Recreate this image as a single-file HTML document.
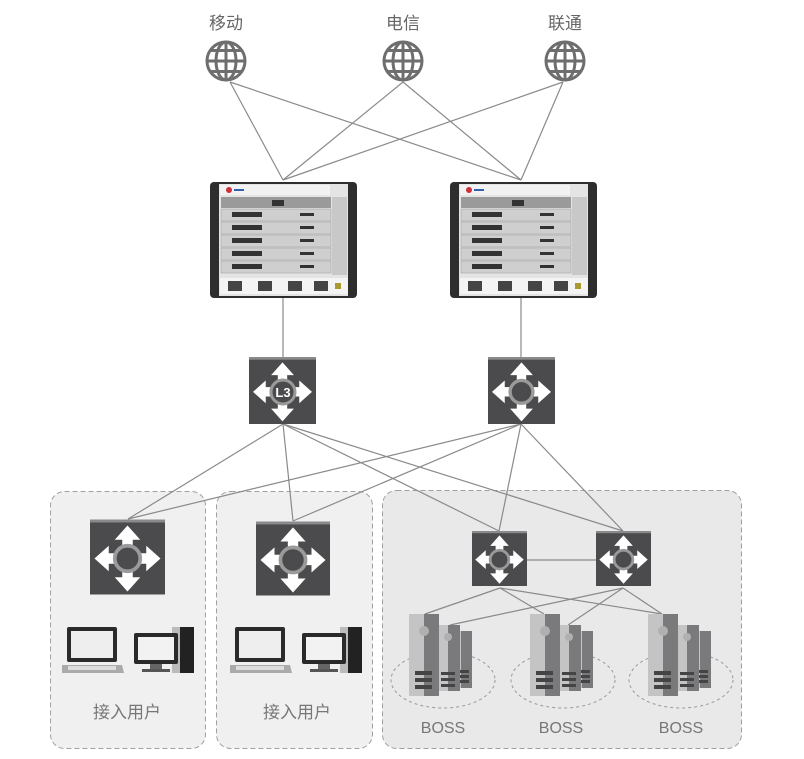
<!DOCTYPE html>
<html><head><meta charset="utf-8"><style>
body{margin:0;background:#fff;}
svg{display:block;font-family:"Liberation Sans","Noto Sans CJK SC",sans-serif;}
</style></head><body>
<svg width="804" height="759" viewBox="0 0 804 759" xmlns="http://www.w3.org/2000/svg">
<defs>
<symbol id="sw" viewBox="0 0 100 100">
<rect x="0" y="0" width="100" height="100" fill="#4b4b4d"/>
<rect x="0" y="0" width="100" height="4" fill="#8a8a8c"/>
<g fill="#fff">
<polygon points="50,8 67,27 57,27 57,38 43,38 43,27 33,27"/>
<polygon points="50,96 67,77 57,77 57,66 43,66 43,77 33,77"/>
<polygon points="6,52 25,35 25,45 36,45 36,59 25,59 25,69"/>
<polygon points="94,52 75,35 75,45 64,45 64,59 75,59 75,69"/>
</g>
<circle cx="50" cy="52" r="17" fill="#4b4b4d" stroke="#9a9a9a" stroke-width="5"/>
</symbol>
<symbol id="ch" viewBox="0 0 147 116">
<rect x="0" y="0" width="147" height="116" rx="4" fill="#2e2e2e"/>
<rect x="9" y="2" width="129" height="112" fill="#e4e4e4"/>
<rect x="10" y="3" width="110" height="10" fill="#f2f2f2"/>
<circle cx="19" cy="8" r="3" fill="#d0303a"/>
<rect x="24" y="7" width="10" height="2" fill="#3060b0"/>
<rect x="11" y="15" width="110" height="11" fill="#9a9a9a"/>
<g fill="#cfcfcf" stroke="#999" stroke-width="0.5">
<rect x="11" y="27" width="110" height="12"/><rect x="11" y="40" width="110" height="12"/>
<rect x="11" y="53" width="110" height="12"/><rect x="11" y="66" width="110" height="12"/>
<rect x="11" y="79" width="110" height="12"/>
</g>
<g fill="#333">
<rect x="22" y="30" width="30" height="5"/><rect x="22" y="43" width="30" height="5"/>
<rect x="22" y="56" width="30" height="5"/><rect x="22" y="69" width="30" height="5"/>
<rect x="22" y="82" width="30" height="5"/>
<rect x="90" y="31" width="14" height="3"/><rect x="90" y="44" width="14" height="3"/>
<rect x="90" y="57" width="14" height="3"/><rect x="90" y="70" width="14" height="3"/>
<rect x="90" y="83" width="14" height="3"/>
<rect x="62" y="18" width="12" height="6"/>
</g>
<rect x="122" y="15" width="15" height="78" fill="#c8c8c8"/>
<rect x="10" y="96" width="128" height="16" fill="#f4f4f4"/>
<g fill="#444"><rect x="18" y="99" width="14" height="10"/><rect x="48" y="99" width="14" height="10"/><rect x="78" y="99" width="14" height="10"/><rect x="104" y="99" width="14" height="10"/><rect x="125" y="101" width="6" height="6" fill="#a89a30"/></g>
</symbol>
<symbol id="globe" viewBox="0 0 44 44">
<g fill="none" stroke="#6e6e6e" stroke-width="3">
<circle cx="22" cy="22" r="19"/>
<ellipse cx="22" cy="22" rx="10" ry="19"/>
<line x1="22" y1="3" x2="22" y2="41"/>
<line x1="3" y1="22" x2="41" y2="22"/>
<path d="M6 11.5 H38 M6 32.5 H38"/>
</g>
</symbol>
<symbol id="srv" viewBox="0 0 64 84">
<rect x="51" y="17" width="12" height="57" fill="#7a7a7c"/>
<rect x="48" y="17" width="4" height="57" fill="#c4c4c4"/>
<rect x="30" y="11" width="21" height="66" fill="#7a7a7c"/>
<rect x="30" y="11" width="9" height="66" fill="#c4c4c4"/>
<rect x="0" y="0" width="30" height="82" fill="#7a7a7c"/>
<rect x="0" y="0" width="15" height="82" fill="#c4c4c4"/>
<circle cx="15" cy="17" r="5" fill="#b0b0b0"/>
<circle cx="39" cy="23" r="4" fill="#b0b0b0"/>
<g fill="#444">
<rect x="6" y="57" width="17" height="4"/><rect x="6" y="64" width="17" height="4"/><rect x="6" y="71" width="17" height="4"/>
<rect x="32" y="58" width="14" height="3"/><rect x="32" y="64" width="14" height="3"/><rect x="32" y="70" width="14" height="3"/>
<rect x="51" y="56" width="9" height="3"/><rect x="51" y="61" width="9" height="3"/><rect x="51" y="66" width="9" height="3"/>
</g>
</symbol>
<symbol id="pc" viewBox="0 0 134 48">
<rect x="5" y="0" width="50" height="35" rx="2" fill="#2a2a2a"/>
<rect x="9" y="4" width="42" height="27" fill="#eee"/>
<polygon points="0,38 60,38 62,46 -2,46" fill="#aaa"/>
<rect x="6" y="39" width="48" height="4" fill="#ddd"/>
<rect x="110" y="0" width="22" height="46" fill="#222"/>
<rect x="110" y="0" width="8" height="46" fill="#bbb"/>
<rect x="72" y="6" width="44" height="31" rx="2" fill="#2a2a2a"/>
<rect x="76" y="10" width="36" height="23" fill="#f2f2f2"/>
<rect x="88" y="37" width="12" height="5" fill="#666"/>
<rect x="80" y="42" width="28" height="3" fill="#555"/>
</symbol>
</defs>

<rect x="50.5" y="491.5" width="155" height="257" rx="14" fill="#f0f0f0" stroke="#a0a0a0" stroke-dasharray="5,3"/>
<rect x="216.5" y="491.5" width="156" height="257" rx="14" fill="#f0f0f0" stroke="#a0a0a0" stroke-dasharray="5,3"/>
<rect x="382.5" y="490.5" width="359" height="258" rx="14" fill="#e9e9ea" stroke="#a0a0a0" stroke-dasharray="5,3"/>

<g stroke="#8a8a8a" stroke-width="1.2" fill="none">
<line x1="230" y1="82" x2="283" y2="180"/><line x1="230" y1="82" x2="521" y2="180"/>
<line x1="403" y1="82" x2="283" y2="180"/><line x1="403" y1="82" x2="521" y2="180"/>
<line x1="563" y1="82" x2="283" y2="180"/><line x1="563" y1="82" x2="521" y2="180"/>
<line x1="283" y1="298" x2="283" y2="357"/><line x1="521" y1="298" x2="521" y2="357"/>
<line x1="283" y1="424" x2="128" y2="519"/><line x1="283" y1="424" x2="293" y2="521"/>
<line x1="283" y1="424" x2="499" y2="531"/><line x1="283" y1="424" x2="623" y2="531"/>
<line x1="521" y1="424" x2="128" y2="519"/><line x1="521" y1="424" x2="293" y2="521"/>
<line x1="521" y1="424" x2="499" y2="531"/><line x1="521" y1="424" x2="623" y2="531"/>
<line x1="520" y1="560" x2="600" y2="560"/>
<line x1="500" y1="588" x2="425" y2="614"/><line x1="500" y1="588" x2="544" y2="614"/><line x1="500" y1="588" x2="662" y2="614"/>
<line x1="623" y1="588" x2="450" y2="625"/><line x1="623" y1="588" x2="568" y2="625"/><line x1="623" y1="588" x2="662" y2="614"/>
</g>

<use href="#globe" x="204" y="39" width="44" height="44"/>
<use href="#globe" x="381" y="39" width="44" height="44"/>
<use href="#globe" x="543" y="39" width="44" height="44"/>
<g font-size="17" fill="#666" text-anchor="middle">
<text x="226" y="29">移动</text><text x="403" y="29">电信</text><text x="565" y="29">联通</text>
</g>

<use href="#ch" x="210" y="182" width="147" height="116"/>
<use href="#ch" x="450" y="182" width="147" height="116"/>

<use href="#sw" x="249" y="357" width="67" height="67"/>
<circle cx="283" cy="392" r="12" fill="#4b4b4d" stroke="#9a9a9a" stroke-width="3"/>
<text x="283" y="397" font-size="13" font-weight="bold" fill="#fff" text-anchor="middle">L3</text>
<use href="#sw" x="488" y="357" width="67" height="67"/>
<use href="#sw" x="90" y="518" width="75" height="78"/>
<use href="#sw" x="256" y="520" width="74" height="77"/>
<use href="#sw" x="472" y="530" width="55" height="57"/>
<use href="#sw" x="596" y="530" width="55" height="57"/>

<use href="#pc" x="62" y="627" width="134" height="48"/>
<use href="#pc" x="230" y="627" width="134" height="48"/>
<g font-size="17" fill="#777" text-anchor="middle">
<text x="127" y="718">接入用户</text><text x="297" y="718">接入用户</text>
</g>

<g fill="none" stroke="#999" stroke-dasharray="3,3">
<ellipse cx="443" cy="680" rx="52" ry="28"/><ellipse cx="563" cy="680" rx="52" ry="28"/><ellipse cx="681" cy="680" rx="52" ry="28"/>
</g>
<use href="#srv" x="409" y="614" width="64" height="84"/>
<use href="#srv" x="530" y="614" width="64" height="84"/>
<use href="#srv" x="648" y="614" width="64" height="84"/>
<g font-size="16" fill="#777" text-anchor="middle">
<text x="443" y="733">BOSS</text><text x="561" y="733">BOSS</text><text x="681" y="733">BOSS</text>
</g>
</svg>
</body></html>
